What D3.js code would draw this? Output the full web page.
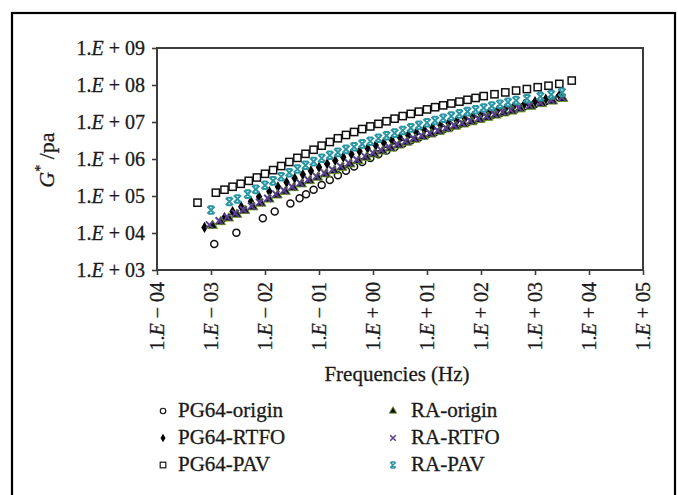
<!DOCTYPE html>
<html>
<head>
<meta charset="utf-8">
<script src="https://cdn.jsdelivr.net/npm/d3@7"></script>
<style>
  body { margin: 0; background: #fff; }
  text { font-family: "Liberation Serif", "DejaVu Serif", serif; fill: #1a1a1a; stroke: #1a1a1a; stroke-width: 0.3px; }
</style>
</head>
<body>
<script>
// log10(frequency, Hz), log10(G*, Pa)
const pg64Origin = [[-2.94,3.70],[-2.53,4.01],[-2.04,4.40],[-1.82,4.58],[-1.53,4.80],[-1.36,4.94],[-1.24,5.05],[-1.1,5.17],[-0.95,5.30],[-0.8,5.43],[-0.65,5.56],[-0.5,5.68],[-0.35,5.80],[-0.2,5.92],[-0.05,6.03],[0.1,6.13],[0.25,6.23],[0.4,6.32],[0.55,6.41],[0.7,6.50],[0.85,6.58],[1.0,6.66],[1.15,6.73],[1.3,6.80],[1.45,6.87],[1.6,6.94],[1.75,7.00],[1.9,7.06],[2.05,7.12],[2.2,7.18],[2.35,7.24],[2.5,7.30],[2.65,7.36],[2.8,7.42],[3.0,7.49],[3.2,7.57],[3.45,7.66]];
const pg64Rtfo = [[-3.12,4.15],[-2.75,4.42],[-2.6,4.58],[-2.44,4.71],[-2.26,4.85],[-2.11,4.98],[-1.92,5.12],[-1.76,5.25],[-1.6,5.37],[-1.45,5.48],[-1.3,5.58],[-1.15,5.68],[-1.0,5.78],[-0.85,5.87],[-0.7,5.96],[-0.55,6.05],[-0.4,6.13],[-0.25,6.21],[-0.1,6.29],[0.05,6.37],[0.2,6.44],[0.35,6.51],[0.5,6.58],[0.65,6.65],[0.8,6.72],[0.95,6.79],[1.1,6.85],[1.25,6.91],[1.4,6.97],[1.55,7.03],[1.7,7.09],[1.85,7.15],[2.0,7.20],[2.15,7.26],[2.3,7.31],[2.45,7.36],[2.6,7.41],[2.8,7.48],[3.0,7.55],[3.2,7.62],[3.45,7.72]];
const pg64Pav = [[-3.25,4.82],[-2.91,5.09],[-2.75,5.17],[-2.6,5.25],[-2.45,5.33],[-2.3,5.41],[-2.15,5.50],[-2.0,5.60],[-1.85,5.70],[-1.7,5.81],[-1.55,5.92],[-1.4,6.03],[-1.25,6.14],[-1.1,6.25],[-0.95,6.36],[-0.8,6.46],[-0.65,6.56],[-0.5,6.65],[-0.35,6.73],[-0.2,6.81],[-0.05,6.88],[0.1,6.95],[0.25,7.02],[0.4,7.09],[0.55,7.16],[0.7,7.22],[0.85,7.28],[1.0,7.34],[1.15,7.40],[1.3,7.45],[1.45,7.50],[1.6,7.55],[1.75,7.60],[1.9,7.65],[2.05,7.70],[2.25,7.75],[2.45,7.80],[2.65,7.85],[2.85,7.89],[3.05,7.94],[3.25,7.98],[3.45,8.03],[3.68,8.12]];
const raOrigin = [[-2.97,4.20],[-2.82,4.30],[-2.67,4.40],[-2.52,4.50],[-2.37,4.60],[-2.22,4.70],[-2.07,4.80],[-1.92,4.91],[-1.77,5.02],[-1.62,5.12],[-1.47,5.22],[-1.32,5.32],[-1.17,5.41],[-1.02,5.50],[-0.87,5.59],[-0.72,5.68],[-0.57,5.77],[-0.42,5.86],[-0.27,5.95],[-0.12,6.04],[0.03,6.13],[0.18,6.21],[0.33,6.29],[0.48,6.37],[0.63,6.45],[0.78,6.53],[0.93,6.60],[1.08,6.67],[1.23,6.74],[1.38,6.81],[1.53,6.88],[1.68,6.94],[1.83,7.00],[1.98,7.06],[2.13,7.12],[2.28,7.18],[2.43,7.24],[2.58,7.29],[2.73,7.35],[2.93,7.42],[3.13,7.49],[3.33,7.56],[3.52,7.63]];
const raRtfo = [[-3.03,4.22],[-2.85,4.33],[-2.7,4.43],[-2.55,4.53],[-2.4,4.63],[-2.25,4.73],[-2.1,4.83],[-1.95,4.94],[-1.8,5.05],[-1.65,5.15],[-1.5,5.25],[-1.35,5.35],[-1.2,5.44],[-1.05,5.53],[-0.9,5.62],[-0.75,5.71],[-0.6,5.80],[-0.45,5.89],[-0.3,5.98],[-0.15,6.07],[0.0,6.16],[0.15,6.24],[0.3,6.32],[0.45,6.40],[0.6,6.48],[0.75,6.56],[0.9,6.63],[1.05,6.70],[1.2,6.77],[1.35,6.84],[1.5,6.91],[1.65,6.97],[1.8,7.03],[1.95,7.09],[2.1,7.15],[2.25,7.21],[2.4,7.27],[2.55,7.32],[2.7,7.38],[2.9,7.45],[3.1,7.52],[3.3,7.59],[3.5,7.66]];
const raPav = [[-3.0,4.62],[-2.66,4.85],[-2.51,4.92],[-2.32,5.05],[-2.17,5.18],[-2.0,5.29],[-1.85,5.41],[-1.7,5.52],[-1.55,5.63],[-1.4,5.73],[-1.25,5.83],[-1.1,5.93],[-0.95,6.02],[-0.8,6.10],[-0.65,6.18],[-0.5,6.26],[-0.35,6.33],[-0.2,6.41],[-0.05,6.48],[0.1,6.56],[0.25,6.63],[0.4,6.70],[0.55,6.77],[0.7,6.84],[0.85,6.91],[1.0,6.98],[1.15,7.04],[1.3,7.10],[1.45,7.16],[1.6,7.22],[1.75,7.28],[1.9,7.33],[2.05,7.38],[2.2,7.43],[2.35,7.48],[2.5,7.53],[2.65,7.58],[2.85,7.63],[3.1,7.69],[3.3,7.74],[3.5,7.80]];

const seriesNames = ["PG64-origin", "PG64-RTFO", "PG64-PAV", "RA-origin", "RA-RTFO", "RA-PAV"];
const seriesData = [pg64Origin, pg64Rtfo, pg64Pav, raOrigin, raRtfo, raPav];
const xTicks = [1e-4, 1e-3, 1e-2, 1e-1, 1e0, 1e1, 1e2, 1e3, 1e4, 1e5];
const yTicks = [1e3, 1e4, 1e5, 1e6, 1e7, 1e8, 1e9];

const W = 678, H = 495;
const plot = { left: 157, right: 643, top: 48, bottom: 270 };

const svg = d3.select("body").append("svg")
  .attr("width", W)
  .attr("height", H);

svg.append("rect").attr("width", W).attr("height", H).attr("fill", "#fff");

// outer frame (bottom edge runs off the picture)
svg.append("rect")
  .attr("x", 12).attr("y", 13)
  .attr("width", 663).attr("height", 520)
  .attr("fill", "none")
  .attr("stroke", "#000")
  .attr("stroke-width", 2.2);

const x = d3.scaleLog().domain([1e-4, 1e5]).range([plot.left, plot.right]);
const y = d3.scaleLog().domain([1e3, 1e9]).range([plot.bottom, plot.top]);

// "1.E + 09" style labels with italic E
function sciLabel(sel, d) {
  const e = Math.round(Math.log10(d));
  const sign = e < 0 ? "\u2212" : "+";
  const digits = String(Math.abs(e)).padStart(2, "0");
  sel.text(null);
  sel.append("tspan").text("1.");
  sel.append("tspan").attr("font-style", "italic").text("E");
  sel.append("tspan").text(" " + sign + " " + digits);
}

const axisColor = "#3c3c3c";

const yAxis = svg.append("g")
  .attr("transform", `translate(${plot.left},0)`)
  .call(d3.axisLeft(y).tickValues(yTicks).tickSize(5).tickPadding(7));
yAxis.selectAll(".tick text")
  .attr("font-size", 20)
  .attr("font-family", "Liberation Serif")
  .attr("fill", "#1a1a1a")
  .each(function(d) { sciLabel(d3.select(this), d); });

const xAxis = svg.append("g")
  .attr("transform", `translate(0,${plot.bottom})`)
  .call(d3.axisBottom(x).tickValues(xTicks).tickSize(5));
xAxis.selectAll(".tick text")
  .attr("font-size", 20)
  .attr("font-family", "Liberation Serif")
  .attr("fill", "#1a1a1a")
  .attr("transform", "rotate(-90)")
  .attr("text-anchor", "end")
  .attr("x", -12)
  .attr("y", 0)
  .attr("dy", "0.34em")
  .each(function(d) { sciLabel(d3.select(this), d); });

svg.selectAll(".domain").remove();
svg.selectAll(".tick line").attr("stroke", axisColor).attr("stroke-width", 1.6);

// plot frame
svg.append("rect")
  .attr("x", plot.left).attr("y", plot.top)
  .attr("width", plot.right - plot.left)
  .attr("height", plot.bottom - plot.top)
  .attr("fill", "none")
  .attr("stroke", axisColor)
  .attr("stroke-width", 2);

// markers
const purple = "#58408f", teal = "#2a95a3";
function drawMarker(g, i) {
  if (i === 0) {
    g.append("circle").attr("r", 3.5).attr("fill", "#fff").attr("stroke", "#111").attr("stroke-width", 1.5);
  } else if (i === 1) {
    g.append("path").attr("d", d3.symbol(d3.symbolDiamond, 36)).attr("fill", "#000");
  } else if (i === 2) {
    g.append("rect").attr("x", -3.6).attr("y", -3.6).attr("width", 7.2).attr("height", 7.2)
      .attr("fill", "#fff").attr("stroke", "#111").attr("stroke-width", 1.5);
  } else if (i === 3) {
    g.append("path").attr("d", d3.symbol(d3.symbolTriangle, 40)).attr("fill", "#111")
      .attr("stroke", "#6a9a25").attr("stroke-width", 1);
  } else if (i === 4) {
    g.append("path").attr("d", "M-3.5,-3.5L3.5,3.5M-3.5,3.5L3.5,-3.5").attr("stroke", purple).attr("stroke-width", 2);
  } else {
    g.append("path").attr("d", "M-3.6,-3.6L3.6,3.6M-3.6,3.6L3.6,-3.6M-2.6,-3.8H2.6M-2.6,3.8H2.6")
      .attr("stroke", teal).attr("stroke-width", 2);
  }
}

seriesData.forEach((data, i) => {
  const pts = data.map(([lf, lg]) => ({ f: 10 ** lf, g: 10 ** lg }));
  svg.append("g")
    .selectAll("g")
    .data(pts)
    .join("g")
      .attr("transform", d => `translate(${x(d.f)},${y(d.g)})`)
      .each(function() { drawMarker(d3.select(this), i); });
});

// axis titles
const yTitle = svg.append("text")
  .attr("transform", "translate(54,160) rotate(-90)")
  .attr("text-anchor", "middle")
  .attr("font-size", 22);
yTitle.append("tspan").attr("font-style", "italic").text("G");
yTitle.append("tspan").attr("font-size", 14).attr("dy", -9).text("*");
yTitle.append("tspan").attr("dy", 9).text(" /pa");

svg.append("text")
  .attr("x", 397).attr("y", 381)
  .attr("text-anchor", "middle")
  .attr("font-size", 21)
  .text("Frequencies (Hz)");

// legend (markers drawn a little smaller than in the plot)
const legendX = [163, 393], textX = [178, 411];
const legendY = [417, 444, 471];
seriesNames.forEach((name, i) => {
  const col = i < 3 ? 0 : 1, row = i % 3;
  const g = svg.append("g")
    .attr("transform", `translate(${legendX[col]},${legendY[row] - 6}) scale(0.78)`);
  drawMarker(g, i);
  svg.append("text")
    .attr("x", textX[col]).attr("y", legendY[row])
    .attr("font-size", 21)
    .text(name);
});
</script>
</body>
</html>
